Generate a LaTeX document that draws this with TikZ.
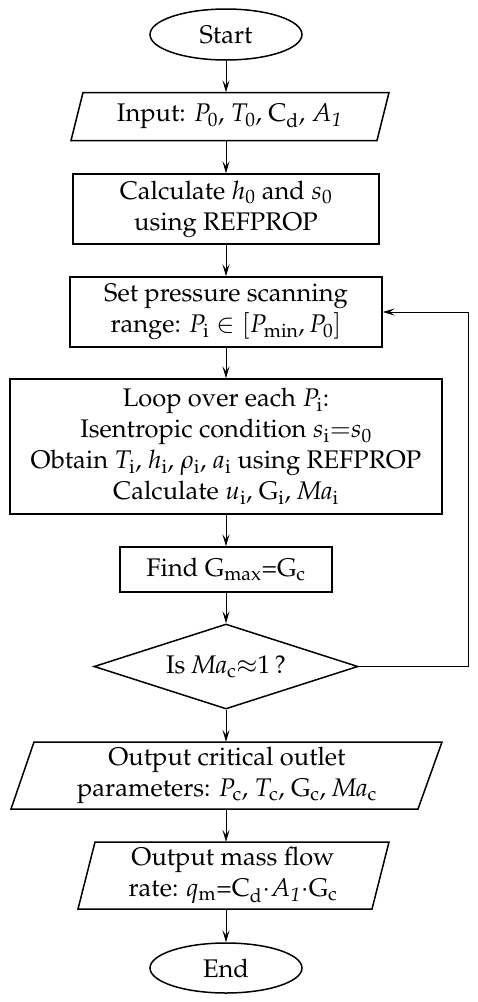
\documentclass[tikz,border=0pt]{standalone}
\usepackage[T1]{fontenc}
\usepackage{mathpazo}
\usetikzlibrary{shapes.geometric,arrows.meta,calc}
\newcommand{\pgram}[6]{\draw[edgeline] ($(#1.center)+(#2,#6)$) -- ($(#1.center)+(#3,#6)$) -- ($(#1.center)+(#5,-#6)$) -- ($(#1.center)+(#4,-#6)$) -- cycle;}
\tikzset{
  txt/.style={inner sep=0pt, align=center, font=\fontsize{25.5}{31}\selectfont},
  base/.style={txt, draw, line width=1.5pt},
  term/.style={base, ellipse, minimum width=152pt, minimum height=51pt},
  proc/.style={base, rectangle},
  io/.style={txt, draw=none},
  dec/.style={base, diamond, aspect=3.1, minimum width=264pt, minimum height=85pt},
  conn/.style={line width=0.9pt, -{Stealth[length=12pt,width=7pt,inset=5pt]}},
  edgeline/.style={line width=1.5pt, line join=miter}
}
\begin{document}
\begin{tikzpicture}[x=1pt,y=-1pt]
\useasboundingbox (0,0) rectangle (477,1002);
\node[term] (start) at (226,34.5) {Start};
\node[io, minimum height=48pt] (in) at (229.5,116.5) {Input: $P_{0}$, $T_{0}$, C$_{\mathrm{d}}$, $A_{\mathit{1}}$};
\pgram{in}{-158.5}{147.5}{-146.5}{159.5}{24}
\node[proc, minimum width=306pt, minimum height=70pt] (calc) at (226,209) {Calculate $h_{0}$ and $s_{0}$\\using REFPROP};
\node[proc, minimum width=312pt, minimum height=70pt] (set) at (226,312) {Set pressure scanning\\range: $P_{\mathrm{i}}\in[P_{\mathrm{min}}, P_{0}]$};
\node[proc, minimum width=432pt, minimum height=135pt] (loop) at (226,446.5) {Loop over each $P_{\mathrm{i}}$:\\Isentropic condition $s_{\mathrm{i}}{=}s_{0}$\\Obtain $T_{\mathrm{i}}$, $h_{\mathrm{i}}$, $\rho_{\mathrm{i}}$, $a_{\mathrm{i}}$ using REFPROP\\Calculate $u_{\mathrm{i}}$, G$_{\mathrm{i}}$, $\mathit{Ma}_{\mathrm{i}}$};
\node[proc, minimum width=212pt, minimum height=45pt] (find) at (226,569.5) {Find G$_{\mathrm{max}}$=G$_{\mathrm{c}}$};
\node[dec] (dec) at (226,666.5) {Is $\mathit{Ma}_{\mathrm{c}}{\approx}1$\,?};
\node[io, minimum height=67pt] (out1) at (227,775.5) {Output critical outlet\\parameters: $P_{\mathrm{c}}$, $T_{\mathrm{c}}$, G$_{\mathrm{c}}$, $\mathit{Ma}_{\mathrm{c}}$};
\pgram{out1}{-216}{191}{-193}{215}{33.5}
\node[io, minimum height=67pt] (out2) at (233,875.5) {Output mass flow\\rate: $q_{\mathrm{m}}$=C$_{\mathrm{d}}{\cdot}A_{\mathit{1}}{\cdot}$G$_{\mathrm{c}}$};
\pgram{out2}{-155}{139}{-138}{156}{33.5}
\node[term, minimum height=50pt] (end) at (226,968) {End};
\coordinate (fb) at (468,0);
\draw[conn] (start.south) -- (start.south |- in.north);
\draw[conn] (start |- in.south) -- (calc.north);
\draw[conn] (calc.south) -- (set.north);
\draw[conn] (set.south) -- (loop.north);
\draw[conn] (loop.south) -- (find.north);
\draw[conn] (find.south) -- (dec.north);
\draw[conn] (dec.south) -- (dec.south |- out1.north);
\draw[conn] (start |- out1.south) -- (start |- out2.north);
\draw[conn] (start |- out2.south) -- (end.north);
\draw[conn] (dec.east) -- (dec.east -| fb) -- (set.east -| fb) -- (set.east);
\end{tikzpicture}
\end{document}
